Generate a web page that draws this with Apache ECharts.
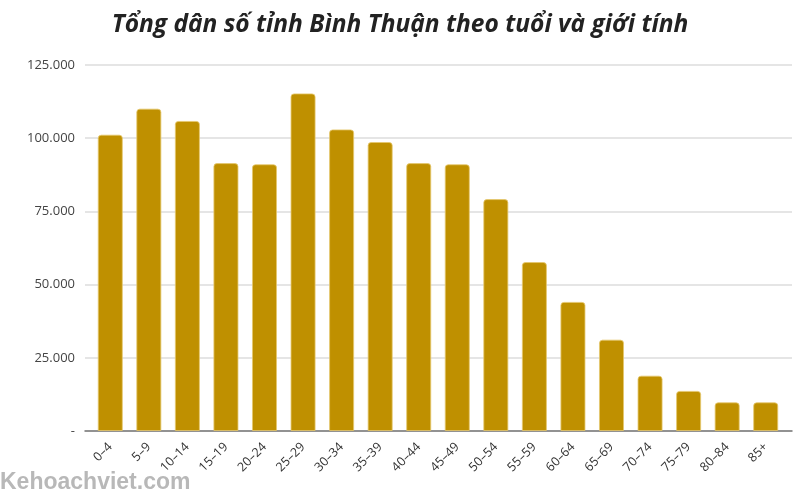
<!DOCTYPE html>
<html>
<head>
<meta charset="utf-8">
<script src="https://cdn.jsdelivr.net/npm/echarts@6/dist/echarts.min.js"></script>
<style>html,body{margin:0;padding:0;background:#fff}#c{width:800px;height:500px}</style>
</head>
<body>
<div id="c"></div>
<script>
const categories = ["0–4","5–9","10–14","15–19","20–24","25–29","30–34","35–39","40–44","45–49","50–54","55–59","60–64","65–69","70–74","75–79","80–84","85+"];
const population = [101200,110100,105900,91500,91100,115300,103000,98700,91500,91100,79200,57700,44100,31200,18900,13700,9800,9800];
const titleText = "Tổng dân số tỉnh Bình Thuận theo tuổi và giới tính";
const watermark = "Kehoachviet.com";

const chart = echarts.init(document.getElementById('c'));
chart.setOption({
  animation: false,
  title: {
    text: titleText, left: 'center', top: 8,
    textStyle: {fontFamily: 'Open Sans', fontStyle: 'italic', fontWeight: 'bold', fontSize: 24.5, color: '#222'}
  },
  graphic: [{
    type: 'text', left: 0, top: 471,
    style: {text: watermark, font: 'bold 23px "Liberation Sans", Arial, sans-serif', fill: '#b8b8b8'}
  }],
  grid: [
    {left: 85, right: 8, top: 65, bottom: 69},
    {left: 91, right: 15, top: 65, bottom: 69}
  ],
  xAxis: [{
    gridIndex: 0, type: 'category', data: categories,
    axisLine: {lineStyle: {color: '#777', width: 1.5}},
    axisTick: {show: false}, axisLabel: {show: false}
  }, {
    gridIndex: 1, type: 'category', data: categories,
    axisLine: {show: false}, axisTick: {show: false},
    axisLabel: {rotate: 45, fontSize: 12.5, color: '#333', fontFamily: 'Open Sans', margin: 14, interval: 0}
  }],
  yAxis: [{
    gridIndex: 0, type: 'value', min: 0, max: 125000, interval: 25000,
    axisLine: {show: false}, axisTick: {show: false},
    splitLine: {lineStyle: {color: '#ddd', width: 1.5}},
    axisLabel: {
      fontSize: 13, color: '#444', fontFamily: 'Open Sans', margin: 10,
      formatter: v => v === 0 ? '-' : v.toString().replace(/\B(?=(\d{3})+(?!\d))/g, '.')
    }
  }, {
    gridIndex: 1, type: 'value', min: 0, max: 125000, interval: 25000, show: false
  }],
  series: [{
    type: 'bar', data: population, xAxisIndex: 1, yAxisIndex: 1, barCategoryGap: '35%', z: 3,
    itemStyle: {color: '#BF9000', borderRadius: [3,3,0,0], borderColor: 'rgba(230,200,110,0.8)', borderWidth: 1}
  }]
});
</script>
</body>
</html>
